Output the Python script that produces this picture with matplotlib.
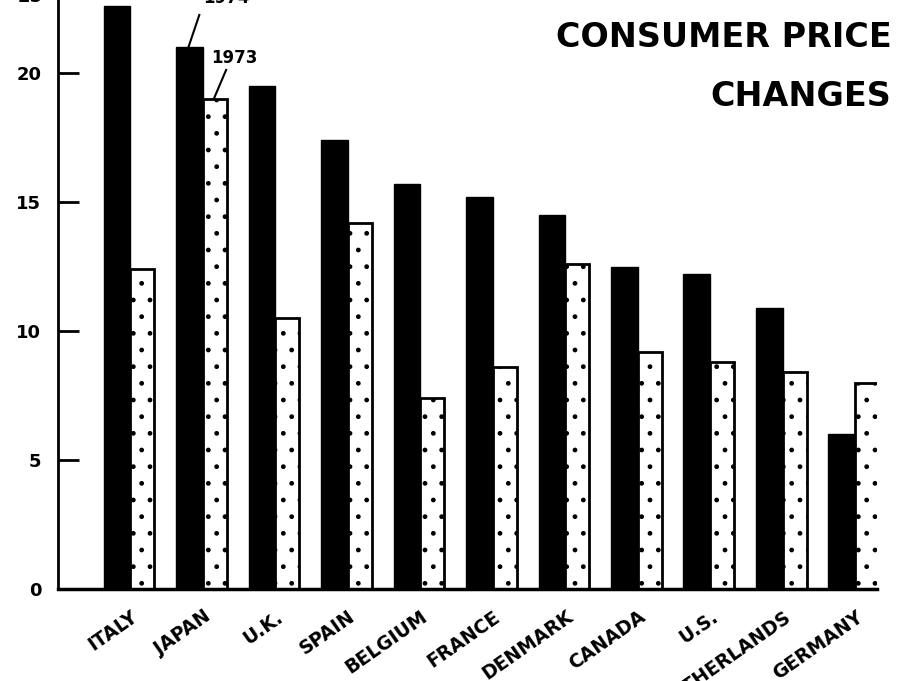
import numpy as np
import matplotlib
matplotlib.use('Agg')
import matplotlib.pyplot as plt

plt.rcParams['font.family'] = ['DejaVu Sans']
plt.rcParams['font.weight'] = 'bold'

countries = ['ITALY', 'JAPAN', 'U.K.', 'SPAIN', 'BELGIUM', 'FRANCE',
             'DENMARK', 'CANADA', 'U.S.', 'NETHERLANDS', 'GERMANY']
values_1974 = [22.6, 21.0, 19.5, 17.4, 15.7, 15.2, 14.5, 12.5, 12.2, 10.9, 6.0]
values_1973 = [12.4, 19.0, 10.5, 14.2, 7.4, 8.6, 12.6, 9.2, 8.8, 8.4, 8.0]

x = np.arange(len(countries))
w74 = 0.37
w73 = 0.33

fig = plt.figure(figsize=(9.03, 6.81), dpi=100)
ax = fig.add_axes([0.0642, 0.135, 0.907, 0.865])

ax.bar(x - w74 / 2, values_1974, width=w74, color='black', edgecolor='black', linewidth=1)
ax.bar(x + w73 / 2, values_1973, width=w73, color='white', edgecolor='black',
       linewidth=2, hatch='.')

ax.set_xlim(-1.0, 10.3)
ax.set_ylim(0, 22.83)

for s in ['top', 'right']:
    ax.spines[s].set_visible(False)
ax.spines['left'].set_linewidth(2)
ax.spines['bottom'].set_linewidth(2.5)

ax.set_yticks([0, 5, 10, 15, 20])
ax.tick_params(axis='y', direction='in', length=15, width=2, pad=12, labelsize=13)
ax.set_xticks(x)
ax.set_xticklabels(countries, rotation=35, ha='right', va='top',
                   rotation_mode='anchor', fontsize=13.5)
ax.tick_params(axis='x', length=0, pad=13)

# year labels with leader lines on the Japan bars
ax.plot([0.95, 0.80], [22.25, 21.0], color='black', lw=1.5, clip_on=False)
ax.text(1.33, 22.56, '1974', ha='center', va='bottom', fontsize=12, clip_on=False)
ax.plot([1.32, 1.155], [20.12, 19.03], color='black', lw=1.5, clip_on=False)
ax.text(1.44, 20.6, '1973', ha='center', va='center', fontsize=12)

# partially cut top tick label of the scanned page
fig.text(0.033, 1 - 6 / 681, '25', ha='center', va='bottom', fontsize=13)

fig.text(0.987, 0.945, 'CONSUMER PRICE', ha='right', va='center', fontsize=24)
fig.text(0.987, 0.858, 'CHANGES', ha='right', va='center', fontsize=24)

fig.savefig('out.png', dpi=100)
